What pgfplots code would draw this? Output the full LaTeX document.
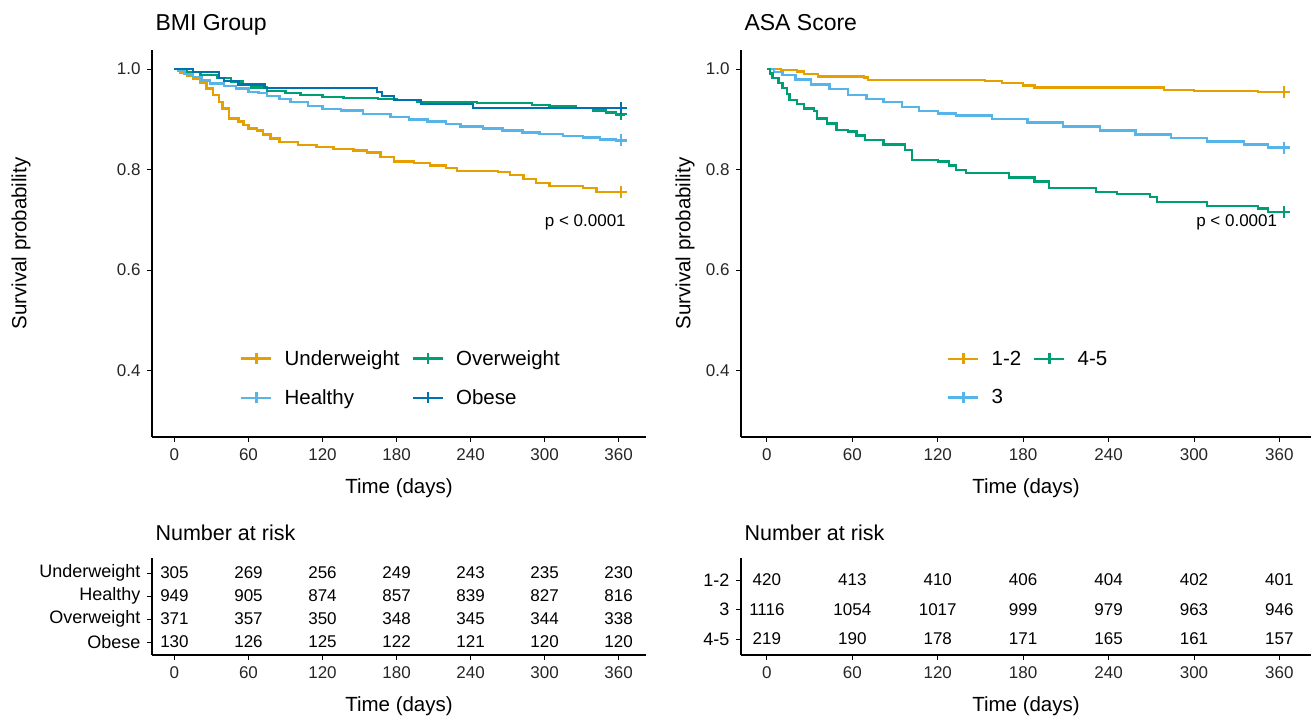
\documentclass[border=0pt]{standalone}
\usepackage{fontspec}
\setmainfont{Liberation Sans}
\usepackage{pgfplots}
\pgfplotsset{compat=1.18}
\definecolor{cU}{HTML}{E69F00}
\definecolor{cH}{HTML}{56B4E9}
\definecolor{cO}{HTML}{009E73}
\definecolor{cB}{HTML}{0072B2}
\pgfplotsset{
  kmbase/.style={
    scale only axis,
    axis lines=left,
    axis line style={-, line width=1.1pt, black},
    tick align=outside,
    major tick length=5pt,
    tick style={line width=1pt, black},
    xmin=-18.2, xmax=382.2,
    xtick={0,60,...,360},
    /pgf/number format/assume math mode=true,
    ticklabel style={font=\fontsize{17}{20}\selectfont, text=black!85},
    xticklabel style={yshift=-3pt},
    yticklabel style={xshift=-3pt},
    label style={font=\fontsize{20.5}{24}\selectfont},
    xlabel={Time (days)},
    xlabel style={at={(axis description cs:0.5,0)}, anchor=center, yshift=-51pt},
    title style={at={(axis description cs:0,1)}, anchor=base west, yshift=13pt, font=\fontsize{23}{27}\selectfont},
  },
  kmtop/.style={
    kmbase, height=387pt,
    ymin=0.268, ymax=1.038,
    ytick={0.4,0.6,0.8,1.0},
    yticklabel={\pgfmathprintnumber[fixed,fixed zerofill,precision=1]{\tick}},
    ylabel={Survival probability},
    legend style={at={(0.504,0.152)}, anchor=center, draw=none, fill=none,
      font=\fontsize{20.5}{24}\selectfont, row sep=19pt,
      /tikz/every odd column/.append style={column sep=10pt},
      /tikz/every even column/.append style={column sep=10pt}},
    legend columns=2,
    legend cell align=left,
    legend image code/.code={\draw[mark repeat=2,mark phase=2,#1] plot coordinates {(0pt,0pt) (15pt,0pt) (30pt,0pt)};},
  },
  kmtab/.style={
    kmbase, height=97pt,
    yticklabel style={font=\fontsize{18}{20}\selectfont, text=black},
    title={Number at risk},
    title style={yshift=-1pt, font=\fontsize{21.5}{25}\selectfont},
  },
  km/.style={const plot, line width=2.4pt, forget plot},
  cens/.style={only marks, mark=+, mark size=6pt, line width=2.2pt, forget plot},
  leg/.style={line width=2.4pt, mark=+, mark size=5.5pt},
  risk/.style={draw=none, mark=none, nodes near coords, point meta=explicit symbolic,
    nodes near coords style={anchor=center, font=\fontsize{17}{20}\selectfont, text=black}},
}
\begin{document}
\begin{tikzpicture}
\useasboundingbox (0pt,0pt) rectangle (1313pt,716pt);
% ---------------- BMI survival ----------------
\begin{axis}[kmtop, at={(152pt,279pt)}, anchor=south west, width=494pt,
  title={BMI Group},
  ylabel style={at={(axis description cs:-0.265,0.5)}, rotate=0, anchor=center}]
\addplot[km, cU] coordinates {(0,1.000) (5,0.993) (10,0.987) (15,0.980) (21,0.972) (26,0.961) (31,0.948) (36,0.934) (39,0.922) (44,0.902) (52,0.896) (56,0.889) (60,0.882) (67,0.878) (72,0.870) (78,0.862) (85,0.855) (100,0.849) (115,0.845) (129,0.841) (145,0.838) (156,0.834) (167,0.825) (178,0.816) (194,0.813) (207,0.808) (220,0.803) (229,0.797) (262,0.795) (272,0.789) (283,0.781) (293,0.773) (304,0.768) (331,0.763) (342,0.755) (365,0.755)};
\addplot[km, cH] coordinates {(0,1) (3,0.996) (8,0.991) (15,0.984) (22,0.977) (29,0.971) (40,0.966) (50,0.961) (60,0.955) (68,0.952) (75,0.947) (85,0.940) (94,0.935) (108,0.926) (120,0.921) (135,0.918) (153,0.911) (175,0.905) (190,0.900) (205,0.896) (220,0.891) (232,0.886) (250,0.882) (266,0.878) (282,0.874) (296,0.871) (315,0.867) (331,0.864) (345,0.860) (358,0.858) (365,0.858)};
\addplot[km, cO] coordinates {(0,1) (10,0.994) (21,0.988) (35,0.982) (46,0.975) (55,0.968) (62,0.963) (75,0.957) (90,0.952) (102,0.949) (120,0.944) (137,0.942) (165,0.940) (180,0.938) (197,0.935) (245,0.932) (290,0.929) (304,0.927) (325,0.923) (339,0.918) (350,0.914) (358,0.910) (365,0.910)};
\addplot[km, cB] coordinates {(0,1) (15,0.994) (36,0.982) (40,0.976) (52,0.969) (73,0.962) (164,0.954) (168,0.946) (178,0.938) (200,0.931) (242,0.923) (365,0.923)};
\addplot[cens, cU] coordinates {(362,0.755)};
\addplot[cens, cH] coordinates {(362,0.858)};
\addplot[cens, cO] coordinates {(362,0.910)};
\addplot[cens, cB] coordinates {(362,0.923)};
\addlegendimage{cU, leg}\addlegendentry{Underweight}
\addlegendimage{cO, leg}\addlegendentry{Overweight}
\addlegendimage{cH, leg}\addlegendentry{Healthy}
\addlegendimage{cB, leg}\addlegendentry{Obese}
\node[font=\fontsize{17}{20}\selectfont] at (axis cs:333,0.695) {p < 0.0001};
\end{axis}
% ---------------- ASA survival ----------------
\begin{axis}[kmtop, at={(741pt,279pt)}, anchor=south west, width=570pt,
  title={ASA Score},
  ylabel style={at={(axis description cs:-0.098,0.5)}, rotate=0, anchor=center}]
\addplot[km, cU] coordinates {(0,1) (10,0.998) (21,0.995) (26,0.990) (36,0.985) (68,0.983) (71,0.978) (153,0.976) (165,0.972) (180,0.967) (188,0.963) (279,0.959) (300,0.957) (345,0.955) (365,0.955)};
\addplot[km, cH] coordinates {(0,1) (5,0.994) (11,0.988) (20,0.979) (31,0.969) (44,0.960) (57,0.949) (70,0.941) (82,0.934) (95,0.925) (107,0.917) (120,0.912) (133,0.908) (158,0.901) (183,0.894) (208,0.886) (234,0.878) (259,0.870) (284,0.863) (309,0.856) (335,0.850) (352,0.844) (365,0.844)};
\addplot[km, cO] coordinates {(0,1) (2,0.991) (4,0.982) (8,0.972) (11,0.962) (14,0.950) (16,0.939) (21,0.930) (26,0.922) (33,0.917) (35,0.902) (42,0.892) (49,0.879) (57,0.876) (63,0.868) (69,0.859) (82,0.850) (97,0.839) (102,0.819) (120,0.816) (128,0.808) (133,0.799) (140,0.793) (170,0.784) (188,0.776) (198,0.764) (231,0.756) (246,0.751) (269,0.746) (274,0.736) (309,0.728) (345,0.723) (352,0.716) (365,0.716)};
\addplot[cens, cU] coordinates {(363,0.955)};
\addplot[cens, cH] coordinates {(363,0.844)};
\addplot[cens, cO] coordinates {(363,0.716)};
\addlegendimage{cU, leg}\addlegendentry{1-2}
\addlegendimage{cO, leg}\addlegendentry{4-5}
\addlegendimage{cH, leg}\addlegendentry{3}
\node[font=\fontsize{17}{20}\selectfont] at (axis cs:330,0.695) {p < 0.0001};
\end{axis}
% ---------------- BMI risk table ----------------
\begin{axis}[kmtab, at={(152pt,61pt)}, anchor=south west, width=494pt,
  ymin=0.435, ymax=4.652, ytick={1,2,3,4},
  yticklabels={Obese,Overweight,Healthy,Underweight}]
\addplot[risk] table[meta=n] {
x y n
0 4 305
60 4 269
120 4 256
180 4 249
240 4 243
300 4 235
360 4 230
0 3 949
60 3 905
120 3 874
180 3 857
240 3 839
300 3 827
360 3 816
0 2 371
60 2 357
120 2 350
180 2 348
240 2 345
300 2 344
360 2 338
0 1 130
60 1 126
120 1 125
180 1 122
240 1 121
300 1 120
360 1 120
};
\end{axis}
% ---------------- ASA risk table ----------------
\begin{axis}[kmtab, at={(741pt,61pt)}, anchor=south west, width=570pt,
  ymin=0.458, ymax=3.746, ytick={1,2,3},
  yticklabels={4-5,3,1-2}]
\addplot[risk] table[meta=n] {
x y n
0 3 420
60 3 413
120 3 410
180 3 406
240 3 404
300 3 402
360 3 401
0 2 1116
60 2 1054
120 2 1017
180 2 999
240 2 979
300 2 963
360 2 946
0 1 219
60 1 190
120 1 178
180 1 171
240 1 165
300 1 161
360 1 157
};
\end{axis}
\end{tikzpicture}
\end{document}
